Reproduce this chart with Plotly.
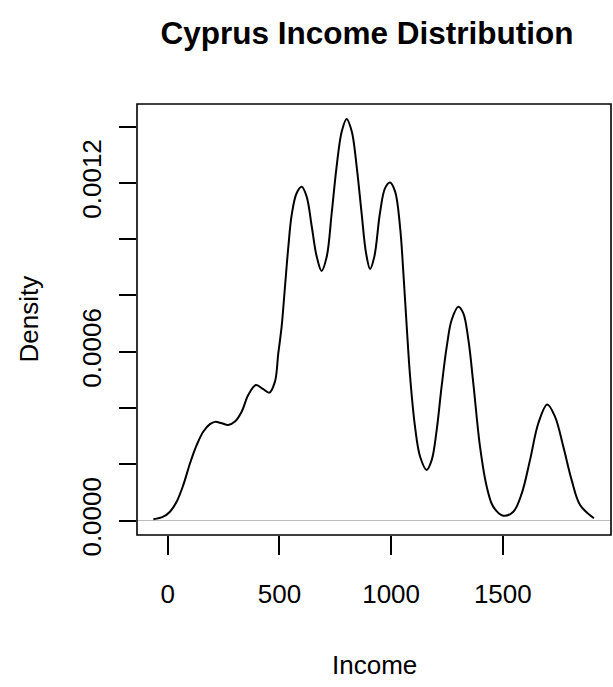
import plotly.graph_objects as go

# Density curve
income = [-64, -20, 10, 40, 70, 100, 130, 159, 189, 212, 242, 271, 301, 331, 361, 395, 428, 455,
          480, 495, 510, 525, 540, 555, 577, 600, 622, 645, 667, 689, 712, 734, 756, 779,
          801, 824, 846, 868, 888, 906, 925, 950, 973, 995, 1018, 1040, 1055, 1070, 1085,
          1107, 1130, 1159, 1182, 1204, 1226, 1249, 1271, 1301, 1323, 1346, 1368, 1398,
          1428, 1457, 1502, 1547, 1585, 1622, 1659, 1699, 1734, 1771, 1808, 1846, 1908]
density = [0.000005, 0.0000142, 0.000032, 0.0000675, 0.000127, 0.000204, 0.000269, 0.000316,
           0.000343, 0.000351, 0.000346, 0.00034, 0.000352, 0.000387, 0.000447, 0.000482,
           0.000467, 0.000455, 0.000494, 0.000594, 0.000689, 0.000831, 0.000973, 0.001086,
           0.001163, 0.001186, 0.001151, 0.001044, 0.000938, 0.000887, 0.000938, 0.001092,
           0.001257, 0.001382, 0.001427, 0.001382, 0.001257, 0.001092, 0.00095, 0.000894,
           0.000938, 0.001092, 0.001181, 0.001201, 0.001169, 0.001044, 0.000879, 0.000689,
           0.000512, 0.000334, 0.000227, 0.00018, 0.000216, 0.000322, 0.000476, 0.000618,
           0.000713, 0.00076, 0.000737, 0.000642, 0.000488, 0.000263, 0.000121, 0.00005,
           0.0000178, 0.000032, 0.0000973, 0.000216, 0.000346, 0.000413, 0.000369, 0.000263,
           0.000145, 0.0000558, 0.0000085]

x_ticks = [0, 500, 1000, 1500]
x_tick_labels = ["0", "500", "1000", "1500"]
y_ticks = [0.0, 0.0002, 0.0004, 0.0006, 0.0008, 0.0010, 0.0012, 0.0014]
y_tick_labels = ["0.0000", "", "", "0.0006", "", "", "0.0012", ""]

title_text = "Cyprus Income Distribution"
x_title = "Income"
y_title = "Density"

FONT = "Liberation Sans, Arial, Helvetica, sans-serif"

fig = go.Figure()
fig.add_trace(go.Scatter(
    x=income, y=density, mode="lines",
    line=dict(color="black", width=2, shape="spline", smoothing=1.0),
    hoverinfo="skip", showlegend=False,
))

fig.update_layout(
    width=613, height=687,
    margin=dict(l=137, r=2, t=104, b=152),
    paper_bgcolor="white", plot_bgcolor="white",
    font=dict(family=FONT, size=26, color="black"),
    title=dict(text="<b>" + title_text + "</b>", x=367 / 613, xref="container", xanchor="center",
               y=1 - 33 / 687, yref="container", yanchor="middle",
               font=dict(size=31.5, family=FONT, color="black")),
    showlegend=False,
)

fig.update_xaxes(
    range=[-137.4, 1984.3], showgrid=False, zeroline=False, showline=False,
    tickmode="array", tickvals=x_ticks, ticktext=x_tick_labels,
    ticks="outside", ticklen=19, tickwidth=1.5, tickcolor="black",
    tickfont=dict(size=26, family=FONT, color="black"),
    ticklabelstandoff=17,
)
fig.update_yaxes(
    range=[-0.0000508, 0.00148], showgrid=False,
    zeroline=True, zerolinecolor="#BEBEBE", zerolinewidth=1.2, showline=False,
    tickmode="array", tickvals=y_ticks, ticktext=y_tick_labels,
    ticks="outside", ticklen=17, tickwidth=1.5, tickcolor="black",
    tickangle=-90, tickfont=dict(size=26, family=FONT, color="black"),
    ticklabelstandoff=8,
)

# plot box
fig.add_shape(type="rect", xref="paper", yref="paper", x0=0, x1=1, y0=0, y1=1,
              line=dict(color="black", width=1.6), fillcolor="rgba(0,0,0,0)", layer="above")

fig.add_annotation(text=x_title, xref="paper", yref="paper", x=0.5, y=(535 - 665) / 431,
                   xanchor="center", yanchor="middle", showarrow=False,
                   font=dict(size=26, family=FONT, color="black"))
fig.add_annotation(text=y_title, xref="paper", yref="paper", x=(28 - 137) / 474, y=0.5,
                   xanchor="center", yanchor="middle", showarrow=False, textangle=-90,
                   font=dict(size=26, family=FONT, color="black"))

fig.write_html("out.html")
